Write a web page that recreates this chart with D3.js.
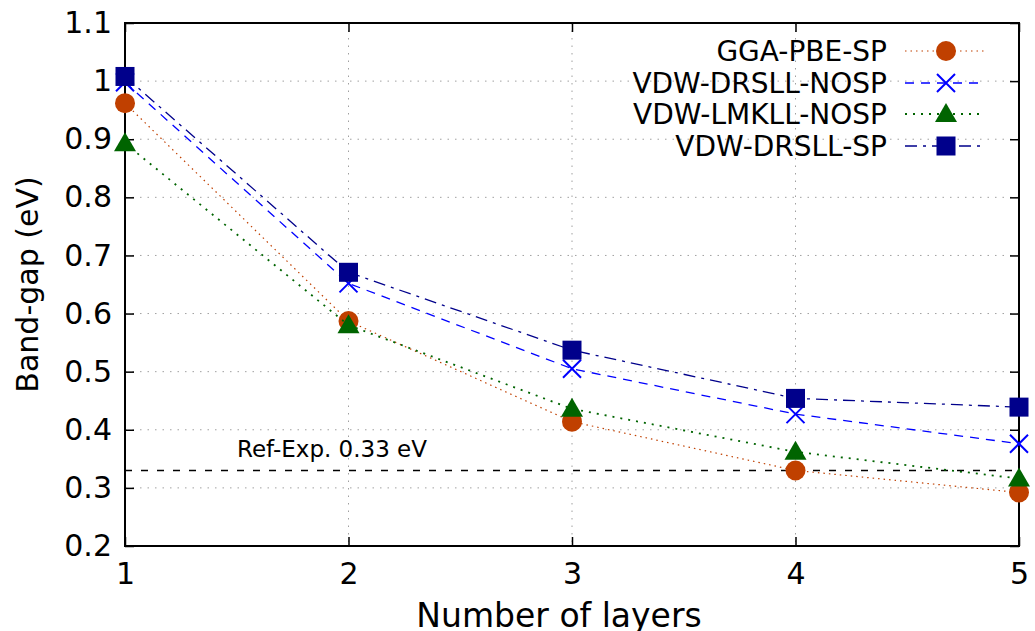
<!DOCTYPE html>
<html><head><meta charset="utf-8">
<script src="https://cdn.jsdelivr.net/npm/d3@7"></script>
<style>body{margin:0;background:#fff}svg{display:block}text{font-family:"DejaVu Sans",sans-serif}</style>
</head><body>
<svg id="c" width="1035" height="631"></svg>
<script>
const layers = [1, 2, 3, 4, 5];
const ggaPbeSp = [0.962, 0.587, 0.414, 0.330, 0.292];
const vdwDrsllNosp = [0.998, 0.652, 0.505, 0.427, 0.376];
const vdwLmkllNosp = [0.893, 0.580, 0.436, 0.362, 0.316];
const vdwDrsllSp = [1.008, 0.671, 0.537, 0.454, 0.439];
const yTicks = [0.2, 0.3, 0.4, 0.5, 0.6, 0.7, 0.8, 0.9, 1.0, 1.1];
const refExp = 0.33;
const names = ["GGA-PBE-SP", "VDW-DRSLL-NOSP", "VDW-LMKLL-NOSP", "VDW-DRSLL-SP"];

const series = [
  {name: names[0], values: ggaPbeSp, color: "#c04000", dash: "1.5,4", sw: 1.2, marker: "circle"},
  {name: names[1], values: vdwDrsllNosp, color: "#0000ff", dash: "9,7", sw: 1.3, marker: "x"},
  {name: names[2], values: vdwLmkllNosp, color: "#006400", dash: "2,6", sw: 1.8, marker: "triangle"},
  {name: names[3], values: vdwDrsllSp, color: "#00008b", dash: "12,6,3,6", sw: 1.3, marker: "square"}
];

const svg = d3.select("#c");
const L = 125, R = 1019, T = 23, B = 546;
const x = d3.scaleLinear().domain([1, 5]).range([L, R]);
const y = d3.scaleLinear().domain([0.2, 1.1]).range([B, T]);

// grid
const g = svg.append("g");
g.selectAll(".gy").data(yTicks).enter().append("line")
  .attr("x1", L).attr("x2", R).attr("y1", d => y(d)).attr("y2", d => y(d))
  .attr("stroke", "#a0a0a0").attr("stroke-width", 1).attr("stroke-dasharray", "1.5,6");
g.selectAll(".gx").data(layers).enter().append("line")
  .attr("y1", T).attr("y2", B).attr("x1", d => x(d)).attr("x2", d => x(d))
  .attr("stroke", "#a0a0a0").attr("stroke-width", 1).attr("stroke-dasharray", "1.5,6");

// axes
const fs = 30;
const ax = svg.append("g").attr("transform", `translate(0,${B})`)
  .call(d3.axisBottom(x).tickValues(layers).tickFormat(d3.format("d")).tickSizeInner(-9).tickSizeOuter(0).tickPadding(18));
const ay = svg.append("g").attr("transform", `translate(${L},0)`)
  .call(d3.axisLeft(y).tickValues(yTicks).tickFormat(d => d === 1 ? "1" : d3.format(".1f")(d)).tickSizeInner(-9).tickSizeOuter(0).tickPadding(13));
const axT = svg.append("g").attr("transform", `translate(0,${T})`)
  .call(d3.axisTop(x).tickValues(layers).tickFormat("").tickSizeInner(-9).tickSizeOuter(0));
const ayR = svg.append("g").attr("transform", `translate(${R},0)`)
  .call(d3.axisRight(y).tickValues(yTicks).tickFormat("").tickSizeInner(-9).tickSizeOuter(0));
[ax, ay, axT, ayR].forEach(a => {
  a.select(".domain").remove();
  a.selectAll("line").attr("stroke", "#000").attr("stroke-width", 1.5);
  a.selectAll("text").attr("font-size", fs).attr("fill", "#000").attr("font-family", "DejaVu Sans");
});
ax.selectAll("text").attr("dy", "0.68em");

// ref line
svg.append("line").attr("x1", L).attr("x2", R).attr("y1", y(refExp)).attr("y2", y(refExp))
  .attr("stroke", "#000").attr("stroke-width", 1.5).attr("stroke-dasharray", "7,9");
svg.append("text").attr("x", 237).attr("y", y(refExp) - 13).attr("font-size", 23).text("Ref-Exp. 0.33 eV");

// border
svg.append("rect").attr("x", L).attr("y", T).attr("width", R - L).attr("height", B - T)
  .attr("fill", "none").attr("stroke", "#000").attr("stroke-width", 2);

function drawMarker(sel, s, cx, cy) {
  if (s.marker === "circle") {
    sel.append("circle").attr("cx", cx).attr("cy", cy).attr("r", 10).attr("fill", s.color);
  } else if (s.marker === "x") {
    const h = 9;
    sel.append("path").attr("d", `M${cx-h},${cy-h}L${cx+h},${cy+h}M${cx-h},${cy+h}L${cx+h},${cy-h}`)
      .attr("stroke", s.color).attr("stroke-width", 2).attr("fill", "none");
  } else if (s.marker === "triangle") {
    sel.append("path").attr("d", `M${cx},${cy-11}L${cx+11},${cy+8}L${cx-11},${cy+8}Z`).attr("fill", s.color);
  } else {
    sel.append("rect").attr("x", cx - 9.5).attr("y", cy - 9.5).attr("width", 19).attr("height", 19).attr("fill", s.color);
  }
}

const line = d3.line().x((d, i) => x(layers[i])).y(d => y(d));
series.forEach(s => {
  const gs = svg.append("g");
  gs.append("path").attr("d", line(s.values)).attr("fill", "none")
    .attr("stroke", s.color).attr("stroke-width", s.sw).attr("stroke-dasharray", s.dash);
  s.values.forEach((v, i) => drawMarker(gs, s, x(layers[i]), y(v)));
});

// legend
const legY = [51, 83, 114, 146];
series.forEach((s, i) => {
  const lg = svg.append("g");
  lg.append("text").attr("x", 887).attr("y", legY[i]).attr("dy", "0.36em").attr("text-anchor", "end")
    .attr("font-size", 28).text(s.name);
  lg.append("line").attr("x1", 905).attr("x2", 985).attr("y1", legY[i]).attr("y2", legY[i])
    .attr("stroke", s.color).attr("stroke-width", s.sw).attr("stroke-dasharray", s.dash);
  drawMarker(lg, s, 946, legY[i]);
});

// axis titles
svg.append("text").attr("x", 559).attr("y", 627).attr("text-anchor", "middle").attr("font-size", 33).text("Number of layers");
svg.append("text").attr("transform", `translate(38,${(T + B) / 2}) rotate(-90)`).attr("text-anchor", "middle").attr("font-size", 30).text("Band-gap (eV)");
</script>
</body></html>
